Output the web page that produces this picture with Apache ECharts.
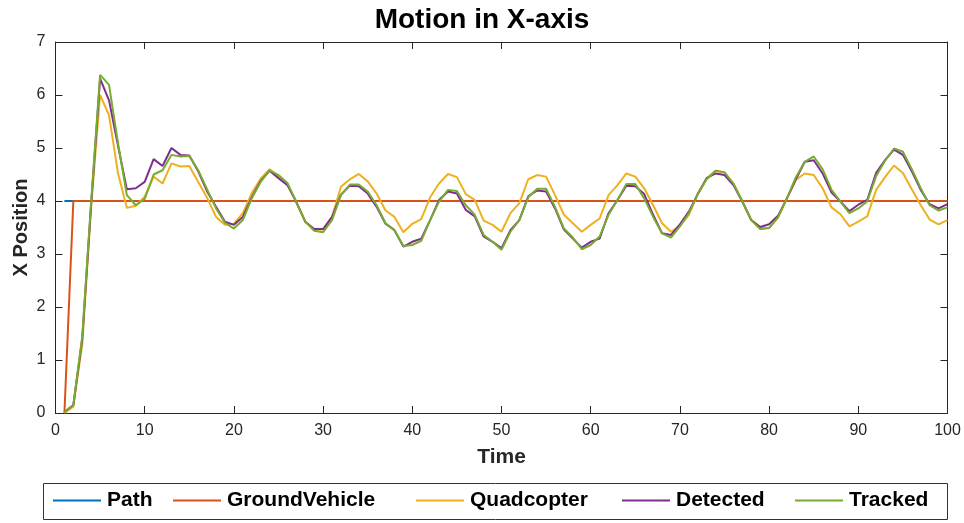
<!DOCTYPE html>
<html>
<head>
<meta charset="utf-8">
<script src="https://cdn.jsdelivr.net/npm/echarts@6/dist/echarts.min.js"></script>
<style>
html,body{margin:0;padding:0;background:#fff;}
#chart{width:964px;height:523px;}
</style>
</head>
<body>
<div id="chart"></div>
<script>
// ---- data ----
const seriesNames = ['Path', 'GroundVehicle', 'Quadcopter', 'Detected', 'Tracked'];
const xTicks = [0, 10, 20, 30, 40, 50, 60, 70, 80, 90, 100];
const yTicks = [0, 1, 2, 3, 4, 5, 6, 7];

const pathTime = [1, 100];
const pathX = [4, 4];

const groundTime = [1, 2, 100];
const groundX = [0, 4, 4];

const time = [1,2,3,4,5,6,7,8,9,10,11,12,13,14,15,16,17,18,19,20,
  21,22,23,24,25,26,27,28,29,30,31,32,33,34,35,36,37,38,39,40,
  41,42,43,44,45,46,47,48,49,50,51,52,53,54,55,56,57,58,59,60,
  61,62,63,64,65,66,67,68,69,70,71,72,73,74,75,76,77,78,79,80,
  81,82,83,84,85,86,87,88,89,90,91,92,93,94,95,96,97,98,99,100];

const quadX = [0,0.12,1.3,3.9,6.0,5.62,4.53,3.87,3.91,4.08,
  4.46,4.33,4.71,4.65,4.66,4.36,4.06,3.70,3.55,3.57,
  3.77,4.15,4.42,4.60,4.46,4.32,3.98,3.61,3.46,3.46,
  3.70,4.27,4.41,4.51,4.37,4.14,3.82,3.70,3.41,3.57,
  3.66,4.07,4.33,4.51,4.45,4.13,4.02,3.63,3.55,3.42,
  3.77,3.96,4.41,4.49,4.46,4.11,3.74,3.58,3.42,3.55,
  3.67,4.11,4.30,4.52,4.46,4.24,3.92,3.58,3.42,3.53,
  3.74,4.13,4.43,4.57,4.54,4.33,3.99,3.64,3.48,3.49,
  3.69,4.05,4.40,4.52,4.49,4.24,3.88,3.75,3.52,3.61,
  3.71,4.21,4.45,4.67,4.53,4.22,3.92,3.65,3.56,3.64];

const detectedX = [0.02,0.15,1.4,3.95,6.31,5.9,5.05,4.22,4.24,4.36,
  4.79,4.66,5.0,4.87,4.86,4.56,4.18,3.89,3.61,3.55,
  3.70,4.07,4.38,4.57,4.43,4.30,3.98,3.61,3.47,3.47,
  3.70,4.12,4.29,4.28,4.14,3.89,3.57,3.45,3.14,3.23,
  3.29,3.64,4.02,4.18,4.14,3.83,3.71,3.33,3.23,3.11,
  3.45,3.64,4.09,4.20,4.18,3.86,3.46,3.29,3.12,3.23,
  3.29,3.77,4.02,4.29,4.28,4.13,3.74,3.39,3.36,3.56,
  3.80,4.13,4.43,4.52,4.49,4.30,3.99,3.64,3.51,3.56,
  3.72,4.05,4.41,4.74,4.77,4.52,4.16,3.99,3.81,3.93,
  4.02,4.53,4.77,4.97,4.87,4.56,4.21,3.94,3.86,3.94];

const trackedX = [0.02,0.15,1.45,4.0,6.38,6.19,5.1,4.11,3.92,4.04,
  4.50,4.58,4.87,4.84,4.85,4.58,4.22,3.86,3.59,3.48,
  3.64,4.05,4.36,4.58,4.49,4.34,3.98,3.61,3.44,3.41,
  3.64,4.11,4.31,4.31,4.18,3.92,3.58,3.45,3.15,3.17,
  3.25,3.64,3.99,4.21,4.19,3.92,3.74,3.36,3.23,3.08,
  3.42,3.64,4.07,4.23,4.23,3.89,3.48,3.31,3.09,3.17,
  3.33,3.74,4.02,4.32,4.32,4.05,3.70,3.39,3.31,3.52,
  3.77,4.13,4.41,4.57,4.54,4.33,3.99,3.64,3.47,3.49,
  3.69,4.05,4.45,4.74,4.84,4.60,4.21,3.99,3.77,3.86,
  3.99,4.47,4.76,4.99,4.93,4.60,4.24,3.92,3.82,3.88];

// ---- chart ----
const colors = ['#0072BD', '#D95319', '#EDB120', '#7E2F8E', '#77AC30'];
const FONT = '"Liberation Sans", Arial, Helvetica, sans-serif';
const AX = '#262626';

function pairs(xs, ys) { return xs.map((x, i) => [x, ys[i]]); }

const seriesData = [
  pairs(pathTime, pathX),
  pairs(groundTime, groundX),
  pairs(time, quadX),
  pairs(time, detectedX),
  pairs(time, trackedX)
];

const legendLefts = [53, 173, 416, 622, 795];

const chart = echarts.init(document.getElementById('chart'), null, {renderer: 'canvas'});

const baseAxis = {
  axisLine: {show: true, onZero: false, lineStyle: {color: AX, width: 1}},
  axisTick: {show: true, inside: true, length: 7, lineStyle: {color: AX, width: 1}},
  splitLine: {show: false}
};

chart.setOption({
  animation: false,
  backgroundColor: '#fff',
  color: colors,
  title: {
    text: 'Motion in X-axis',
    left: 'center',
    top: 1,
    textStyle: {fontFamily: FONT, fontSize: 28, fontWeight: 'bold', color: '#000'}
  },
  grid: {left: 55.5, right: 16.5, top: 42, bottom: 110, containLabel: false},
  xAxis: [
    Object.assign({}, baseAxis, {
      type: 'value', min: xTicks[0], max: xTicks[xTicks.length - 1], interval: 10,
      position: 'bottom',
      name: 'Time', nameLocation: 'middle', nameGap: 34, nameMoveOverlap: false,
      nameTextStyle: {fontFamily: FONT, fontSize: 21, fontWeight: 'bold', color: AX},
      axisLabel: {fontFamily: FONT, fontSize: 16, color: AX, margin: 10}
    }),
    Object.assign({}, baseAxis, {
      type: 'value', min: 0, max: 100, interval: 10, position: 'top',
      axisLabel: {show: false}
    })
  ],
  yAxis: [
    Object.assign({}, baseAxis, {
      type: 'value', min: yTicks[0], max: yTicks[yTicks.length - 1], interval: 1,
      position: 'left',
      name: 'X Position', nameLocation: 'middle', nameGap: 24, nameRotate: 90, nameMoveOverlap: false,
      nameTextStyle: {fontFamily: FONT, fontSize: 20, fontWeight: 'bold', color: AX},
      axisLabel: {fontFamily: FONT, fontSize: 16, color: AX, margin: 10}
    }),
    Object.assign({}, baseAxis, {
      type: 'value', min: 0, max: 7, interval: 1, position: 'right',
      axisLabel: {show: false}
    })
  ],
  legend: seriesNames.map((n, i) => ({
    data: [n],
    left: legendLefts[i],
    top: 490,
    icon: 'rect',
    itemWidth: 48,
    itemHeight: 2,
    itemGap: 0,
    padding: 0,
    textStyle: {fontFamily: FONT, fontSize: 21, fontWeight: 'bold', color: '#000', padding: [0, 0, 0, 1]}
  })),
  graphic: [{
    type: 'rect',
    shape: {x: 43.5, y: 483.5, width: 904, height: 36},
    style: {fill: 'none', stroke: '#333', lineWidth: 1},
    silent: true,
    z: 0
  }],
  series: seriesNames.map((n, i) => ({
    name: n,
    type: 'line',
    data: seriesData[i],
    showSymbol: false,
    symbol: 'none',
    lineStyle: {width: 2, color: colors[i]},
    itemStyle: {color: colors[i]},
    z: 2 + i
  }))
});
</script>
</body>
</html>
